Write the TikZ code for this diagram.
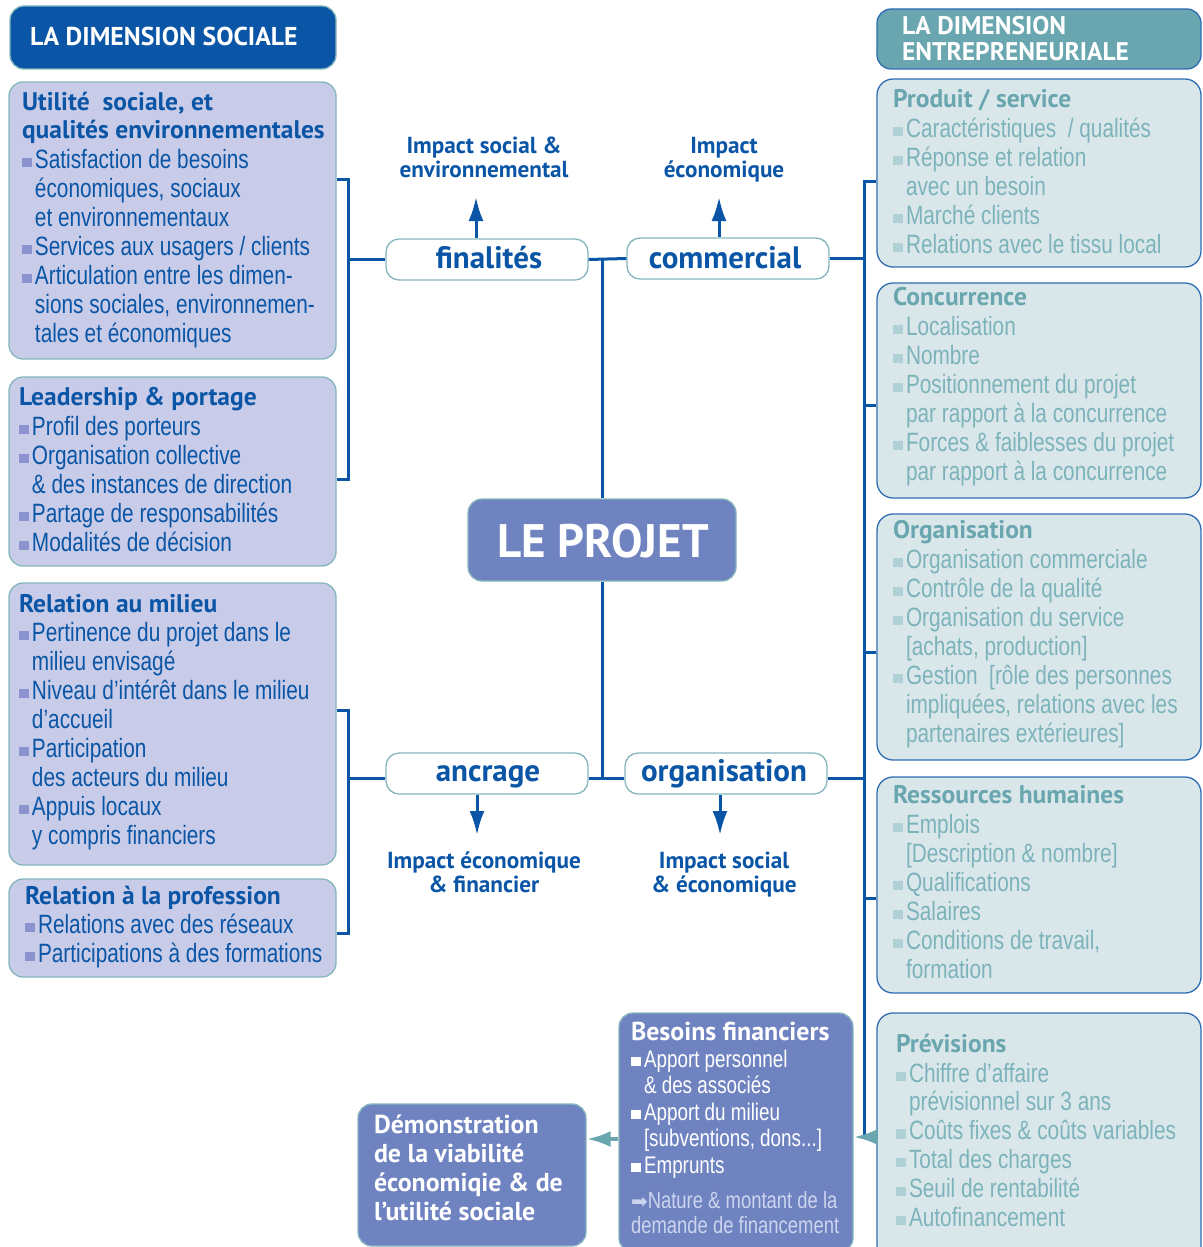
\documentclass[tikz,border=0pt]{standalone}
\usepackage{fontspec}
\usetikzlibrary{arrows.meta,fit}
\newfontfamily\bfont[FakeStretch=0.785]{Liberation Sans}
\newfontfamily\hfont{PT Sans}
\newfontfamily\djv{DejaVu Sans}
\definecolor{dblue}{HTML}{0A55A5}
\definecolor{lfill}{HTML}{C8CCE8}
\definecolor{lborder}{HTML}{84B6BD}
\definecolor{lbul}{HTML}{8A93CE}
\definecolor{peri}{HTML}{6F83C1}
\definecolor{tealh}{HTML}{6AA6AF}
\definecolor{rborder}{HTML}{2F6DB3}
\definecolor{rfill}{HTML}{DAE7EA}
\definecolor{rtext}{HTML}{7CB3BB}
\definecolor{rbul}{HTML}{AFD0D5}
\definecolor{bfaint}{HTML}{CDD5EE}
\newcommand\sq[1]{{\color{#1}\rule[1pt]{10pt}{9.5pt}}\hspace{3pt}}
\newcommand\I{\hspace{13pt}}
\newcommand\tdots{...}
\newcommand\bodyf{\bfont\fontsize{26.5}{29}\selectfont}
\newcommand\headf{\hfont\bfseries\fontsize{25.5}{28}\selectfont}
\newcommand\tlines[6]{\foreach \myline [count=\i] in {#6} {\node[#2] (#1-\i) at (#3,{#4+#5*(\i-1)}) {\myline};}}
\tikzset{
  conn/.style={draw=dblue, line width=3pt},
  barr/.style={draw=dblue, line width=3pt, -{Latex[length=24pt,width=15pt]}},
  tarr/.style={draw=tealh, line width=3.8pt, -{Latex[length=24pt,width=16pt]}},
  lbox/.style={draw=lborder, fill=lfill, line width=1.3pt, rounded corners=14pt, inner sep=0pt},
  rbox/.style={draw=rborder, fill=rfill, line width=1.3pt, rounded corners=16pt, inner sep=0pt},
  pbox/.style={draw=lborder, fill=peri, line width=1.3pt, rounded corners=14pt, inner sep=0pt},
  cbox/.style={draw=lborder, fill=white, line width=1.3pt, rounded corners=13pt, inner sep=0pt},
  txt/.style={anchor=base west, inner sep=0pt, outer sep=0pt},
  lhead/.style={txt, font=\headf, text=dblue},
  lbody/.style={txt, font=\bodyf, text=dblue},
  rhead/.style={txt, font=\headf, text=tealh},
  rbody/.style={txt, font=\bodyf, text=rtext},
  whead/.style={txt, font=\hfont\bfseries\fontsize{25.9}{29}\selectfont, text=white},
  wbody/.style={txt, font=\bfont\fontsize{24}{26}\selectfont, text=white},
  fbody/.style={txt, font=\bfont\fontsize{23.5}{26}\selectfont, text=bfaint},
  ctext/.style={anchor=base, inner sep=0pt, font=\hfont\bfseries\fontsize{31}{32}\selectfont, text=dblue},
  itext/.style={anchor=base, inner sep=0pt, font=\hfont\bfseries\fontsize{23.2}{24}\selectfont, text=dblue},
}
\begin{document}
\begin{tikzpicture}[x=1pt,y=-1pt]
\useasboundingbox (0,0) rectangle (1202,1247);

% ---------- headers
\node[fit={(10,6) (336,69)}, draw=lborder, fill=dblue, line width=1.3pt, rounded corners=14pt, inner sep=0pt] (hL) {};
\node[txt, font=\hfont\bfseries\fontsize{25.8}{26}\selectfont, text=white] (hLt) at (30,46) {LA DIMENSION SOCIALE};
\node[fit={(877,9) (1201,69)}, draw=rborder, fill=tealh, line width=1.3pt, rounded corners=14pt, inner sep=0pt] (hR) {};
\tlines{hRt}{txt, font=\hfont\bfseries\fontsize{25.5}{25}\selectfont, text=white}{902}{35}{25}{{LA DIMENSION},{ENTREPRENEURIALE}}

% ---------- left boxes
\node[lbox, fit={(9,82) (336,359)}] (L1) {};
\tlines{L1h}{lhead}{22}{110}{28}{{Utilité~\ sociale, et},{qualités environnementales}}
\tlines{L1b}{lbody}{22}{168}{29}{{\sq{lbul}Satisfaction de besoins},{\I économiques, sociaux},{\I et environnementaux},{\sq{lbul}Services aux usagers / clients},{\sq{lbul}Articulation entre les dimen-},{\I sions sociales, environnemen-},{\I tales et économiques}}

\node[lbox, fit={(9,377) (336,566)}] (L2) {};
\node[lhead] (L2h) at (19,405) {Leadership \& portage};
\tlines{L2b}{lbody}{19}{435}{29}{{\sq{lbul}Profil des porteurs},{\sq{lbul}Organisation collective},{\I \& des instances de direction},{\sq{lbul}Partage de responsabilités},{\sq{lbul}Modalités de décision}}

\node[lbox, fit={(9,583) (336,865)}] (L3) {};
\node[lhead] (L3h) at (19,612) {Relation au milieu};
\tlines{L3b}{lbody}{19}{641}{29}{{\sq{lbul}Pertinence du projet dans le},{\I milieu envisagé},{\sq{lbul}Niveau d’intérêt dans le milieu},{\I d’accueil},{\sq{lbul}Participation},{\I des acteurs du milieu},{\sq{lbul}Appuis locaux},{\I y compris financiers}}

\node[lbox, fit={(9,879) (336,977)}] (L4) {};
\node[lhead] (L4h) at (25,904) {Relation à la profession};
\tlines{L4b}{lbody}{25}{933}{29}{{\sq{lbul}Relations avec des réseaux},{\sq{lbul}Participations à des formations}}

% ---------- right boxes
\node[rbox, fit={(877,79) (1201,267)}] (R1) {};
\node[rhead] (R1h) at (893,107) {Produit / service};
\tlines{R1b}{rbody}{893}{137}{29}{{\sq{rbul}Caractéristiques~ / qualités},{\sq{rbul}Réponse et relation},{\I avec un besoin},{\sq{rbul}Marché clients},{\sq{rbul}Relations avec le tissu local}}

\node[rbox, fit={(877,283) (1201,498)}] (R2) {};
\node[rhead] (R2h) at (893,305) {Concurrence};
\tlines{R2b}{rbody}{893}{335}{29}{{\sq{rbul}Localisation},{\sq{rbul}Nombre},{\sq{rbul}Positionnement du projet},{\I par rapport à la concurrence},{\sq{rbul}Forces \& faiblesses du projet},{\I par rapport à la concurrence}}

\node[rbox, fit={(877,514) (1201,760)}] (R3) {};
\node[rhead] (R3h) at (893,538) {Organisation};
\tlines{R3b}{rbody}{893}{568}{29}{{\sq{rbul}Organisation commerciale},{\sq{rbul}Contrôle de la qualité},{\sq{rbul}Organisation du service},{\I [achats, production]},{\sq{rbul}Gestion~ [rôle des personnes},{\I impliquées, relations avec les},{\I partenaires extérieures]}}

\node[rbox, fit={(877,777) (1201,993)}] (R4) {};
\node[rhead] (R4h) at (893,803) {Ressources humaines};
\tlines{R4b}{rbody}{893}{833}{29}{{\sq{rbul}Emplois},{\I [Description \& nombre]},{\sq{rbul}Qualifications},{\sq{rbul}Salaires},{\sq{rbul}Conditions de travail,},{\I formation}}

\node[rbox, fit={(877,1013) (1201,1262)}] (R5) {};
\node[rhead] (R5h) at (896,1052) {Prévisions};
\tlines{R5b}{rbody}{896}{1082}{28.8}{{\sq{rbul}Chiffre d’affaire},{\I prévisionnel sur 3 ans},{\sq{rbul}Coûts fixes \& coûts variables},{\sq{rbul}Total des charges},{\sq{rbul}Seuil de rentabilité},{\sq{rbul}Autofinancement}}

% ---------- centre
\node[cbox, fit={(386,239) (588,280)}] (fin) {};
\node[ctext] (finT) at (489,268) {finalités};
\node[cbox, fit={(627,238) (829,279)}] (com) {};
\node[ctext] (comT) at (725,268) {commercial};
\node[cbox, fit={(386,753) (588,794)}] (anc) {};
\node[ctext] (ancT) at (488,781) {ancrage};
\node[cbox, fit={(625,753) (827,794)}] (org) {};
\node[ctext] (orgT) at (724,781) {organisation};

\node[pbox, fit={(468,499) (736,581)}] (proj) {};
\node[anchor=base, inner sep=0pt, font=\hfont\bfseries\fontsize{47}{50}\selectfont, text=white] (projT) at (603,557) {LE PROJET};

\tlines{i1}{itext}{484}{153}{24.5}{{Impact social \&},{environnemental}}
\tlines{i2}{itext}{724}{153}{24.5}{{Impact},{économique}}
\tlines{i3}{itext}{484}{868}{24}{{Impact économique},{\& financier}}
\tlines{i4}{itext}{724}{868}{24}{{Impact social},{\& économique}}

\coordinate (a1) at (476,197);
\coordinate (a2) at (719,197);
\coordinate (a3) at (477,835);
\coordinate (a4) at (720,835);
\draw[barr] (fin.north -| a1) -- (a1);
\draw[barr] (com.north -| a2) -- (a2);
\draw[barr] (anc.south -| a3) -- (a3);
\draw[barr] (org.south -| a4) -- (a4);

% ---------- bottom
\node[pbox, fit={(619,1013) (853,1252)}] (bes) {};
\node[whead] (besH) at (631,1040) {Besoins financiers};
\tlines{besB}{wbody}{631}{1067}{26.5}{{\sq{white}Apport personnel},{\I \& des associés},{\sq{white}Apport du milieu},{\I [subventions, dons\tdots]},{\sq{white}Emprunts}}
\tlines{besF}{fbody}{631}{1208}{25}{{{\djv\fontsize{20}{20}\selectfont ➡}Nature \& montant de la},{demande de financement}}

\node[pbox, fit={(358,1104) (586,1246)}] (dem) {};
\tlines{demT}{whead}{374}{1133}{29.3}{{Démonstration},{de la viabilité},{économiqie \& de},{l’utilité sociale}}

% ---------- connectors
\coordinate (lb1) at (348,179);
\coordinate (lb2) at (348,479);
\coordinate (lb3) at (348,710);
\coordinate (lb4) at (348,933);
\coordinate (ly) at (0,778);
\draw[conn] (L1.east |- lb1) -- (lb1) -- (lb2) -- (L2.east |- lb2);
\draw[conn] (lb1 |- fin.west) -- (fin.west);
\draw[conn] (L3.east |- lb3) -- (lb3) -- (lb4) -- (L4.east |- lb4);
\draw[conn] (lb3 |- ly) -- (anc.west |- ly);

\draw[conn] (fin.east) -- (com.west);
\draw[conn] (proj.north |- fin.east) -- (proj.north);
\draw[conn] (proj.south) -- (proj.south |- ly);
\draw[conn] (anc.east |- ly) -- (org.west |- ly);

\coordinate (rv1) at (864,181);
\coordinate (rv2) at (864,1137);
\coordinate (ry2) at (0,405);
\coordinate (ry3) at (0,652);
\coordinate (ry4) at (0,898);
\draw[conn] (R1.west |- rv1) -- (rv1) -- (rv2);
\draw[conn] (rv1 |- ry2) -- (R2.west |- ry2);
\draw[conn] (rv1 |- ry3) -- (R3.west |- ry3);
\draw[conn] (rv1 |- ry4) -- (R4.west |- ry4);
\draw[conn] (com.east) -- (com.east -| rv1);
\draw[conn] (org.east |- ly) -- (rv1 |- ly);

\coordinate (ty) at (0,1139);
\draw[tarr] (R5.west |- rv2) -- (bes.east |- rv2);
\draw[tarr] (bes.west |- ty) -- (dem.east |- ty);
\end{tikzpicture}
\end{document}
